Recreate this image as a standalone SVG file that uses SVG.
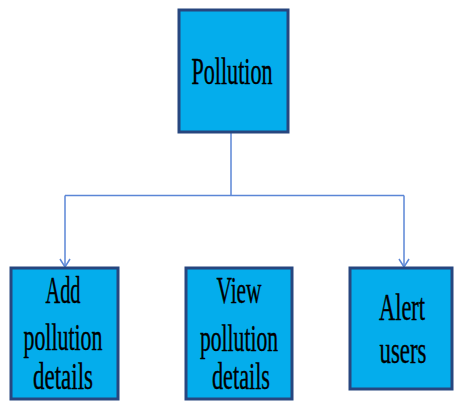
<svg xmlns="http://www.w3.org/2000/svg" width="454" height="402" viewBox="0 0 454 402">
  <defs>
    <marker id="arrow" viewBox="0 0 12 12" refX="11" refY="6" markerWidth="12" markerHeight="12" markerUnits="userSpaceOnUse" orient="auto">
      <path d="M3,1 L11,6 L3,11" fill="none" stroke="#5b86d6" stroke-width="1.5"/>
    </marker>
  </defs>
  <style>
    .box { fill: #04adec; stroke: #27467f; stroke-width: 3; }
    .lbl { font-family: "Liberation Serif", "DejaVu Serif", serif; font-size: 38px; fill: #000; stroke: #000; stroke-width: 0.4; text-anchor: middle; }
    .conn { fill: none; stroke: #5b86d6; stroke-width: 1.5; }
  </style>
  <rect width="454" height="402" fill="#ffffff"/>

  <g id="connectors">
    <path class="conn" d="M231,133 V195.5"/>
    <path class="conn" d="M65,195.5 H404"/>
    <path class="conn" d="M65,195.5 V267" marker-end="url(#arrow)"/>
    <path class="conn" d="M404,195.5 V267" marker-end="url(#arrow)"/>
  </g>

  <g id="pollution">
    <rect class="box" x="179" y="10" width="109" height="122"/>
    <text class="lbl" x="232" y="84" textLength="81" lengthAdjust="spacingAndGlyphs">Pollution</text>
  </g>

  <g id="add-pollution-details">
    <rect class="box" x="11" y="268" width="107" height="131"/>
    <text class="lbl" x="63" y="303" textLength="35" lengthAdjust="spacingAndGlyphs">Add</text>
    <text class="lbl" x="63" y="350" textLength="79" lengthAdjust="spacingAndGlyphs">pollution</text>
    <text class="lbl" x="63" y="389" textLength="60" lengthAdjust="spacingAndGlyphs">details</text>
  </g>

  <g id="view-pollution-details">
    <rect class="box" x="186" y="268" width="106" height="131"/>
    <text class="lbl" x="239" y="303" textLength="45" lengthAdjust="spacingAndGlyphs">View</text>
    <text class="lbl" x="239" y="351" textLength="78" lengthAdjust="spacingAndGlyphs">pollution</text>
    <text class="lbl" x="241" y="389" textLength="58" lengthAdjust="spacingAndGlyphs">details</text>
  </g>

  <g id="alert-users">
    <rect class="box" x="350" y="268" width="102" height="121"/>
    <text class="lbl" x="402" y="320" textLength="46" lengthAdjust="spacingAndGlyphs">Alert</text>
    <text class="lbl" x="403" y="363" textLength="47" lengthAdjust="spacingAndGlyphs">users</text>
  </g>
</svg>
